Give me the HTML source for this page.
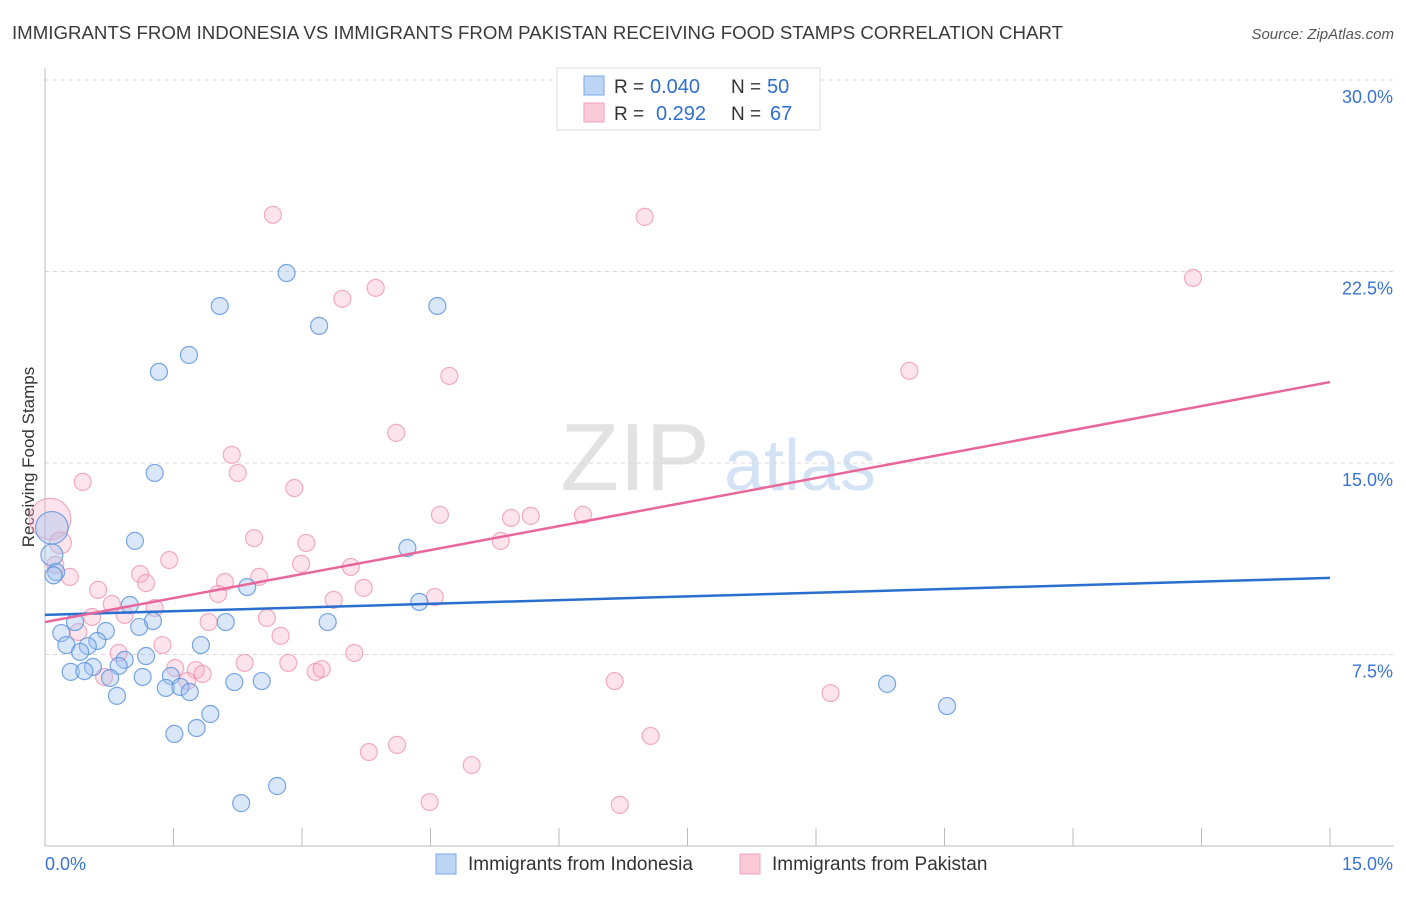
<!DOCTYPE html>
<html><head><meta charset="utf-8"><style>
body{margin:0;background:#fff;font-family:"Liberation Sans",sans-serif;}
svg text{font-family:"Liberation Sans",sans-serif;}
</style></head><body>
<svg id="chart" width="1406" height="892" xmlns="http://www.w3.org/2000/svg">
<text x="12" y="39" font-size="18" fill="#3a3a3a" textLength="1051" lengthAdjust="spacingAndGlyphs">IMMIGRANTS FROM INDONESIA VS IMMIGRANTS FROM PAKISTAN RECEIVING FOOD STAMPS CORRELATION CHART</text>
<text x="1394" y="39" font-size="15" fill="#555" text-anchor="end" font-style="italic">Source: ZipAtlas.com</text>
<text transform="translate(34,457) rotate(-90)" font-size="17" fill="#333" text-anchor="middle">Receiving Food Stamps</text>
<g>
<text x="635" y="490" font-size="96" fill="#e2e2e2" text-anchor="middle" font-family="Liberation Serif,serif">ZIP</text>
<text x="800" y="490" font-size="72" fill="#d3e2f4" text-anchor="middle">atlas</text>
</g>
<g id="grid"></g>
<g id="axes"></g>
<g id="marks"></g>
<g>
<rect x="557" y="68" width="263" height="62" fill="#fff" stroke="#ddd"/>
<rect x="584" y="76" width="20" height="19" fill="#bcd5f5" stroke="#7aa7e3"/>
<rect x="584" y="103" width="20" height="19" fill="#fbcad8" stroke="#f0a0ba"/>
<text x="614" y="93" font-size="19" fill="#333">R =</text>
<text x="650" y="93" font-size="20" fill="#2f6fd0">0.040</text>
<text x="731" y="93" font-size="19" fill="#333">N =</text>
<text x="767" y="93" font-size="20" fill="#2f6fd0">50</text>
<text x="614" y="120" font-size="19" fill="#333">R =</text>
<text x="656" y="120" font-size="20" fill="#2f6fd0">0.292</text>
<text x="731" y="120" font-size="19" fill="#333">N =</text>
<text x="770" y="120" font-size="20" fill="#2f6fd0">67</text>
</g>
<g>
<rect x="436" y="854" width="20" height="20" fill="#bcd5f5" stroke="#7aa7e3"/>
<text x="468" y="870" font-size="19" fill="#333">Immigrants from Indonesia</text>
<rect x="740" y="854" width="20" height="20" fill="#fbcad8" stroke="#f0a0ba"/>
<text x="772" y="870" font-size="19" fill="#333">Immigrants from Pakistan</text>
</g>
</svg>
<script>
const yTicks=[7.5,15,22.5,30];
const yTickLabels=["7.5%","15.0%","22.5%","30.0%"];
const xTickLabels=["0.0%","15.0%"];
const blueX=[2.82,2.04,4.58,3.20,1.68,1.33,1.28,1.05,4.23,2.36,4.37,0.99,1.26,1.10,2.11,3.30,0.35,0.19,0.71,0.61,0.25,0.50,0.41,1.18,1.82,0.93,0.86,0.56,0.30,0.46,0.76,1.14,1.47,1.41,1.58,1.69,2.21,2.53,0.84,1.93,1.77,1.51,9.83,10.53,2.71,2.29,0.08,0.08,0.13,0.10];
const blueY=[22.44,21.15,21.15,20.37,19.23,18.57,14.61,11.95,11.67,10.14,9.56,9.44,8.81,8.58,8.77,8.77,8.77,8.34,8.42,8.03,7.87,7.83,7.60,7.44,7.87,7.29,7.05,7.01,6.82,6.85,6.58,6.62,6.66,6.19,6.23,6.03,6.42,6.46,5.88,5.17,4.62,4.39,6.35,5.48,2.35,1.68,12.46,11.40,10.73,10.6];
const blueN=[1,1,1,1,1,1,1,1,1,1,1,1,1,1,1,1,1,1,1,1,1,1,1,1,1,1,1,1,1,1,1,1,1,1,1,1,1,1,1,1,1,1,1,1,1,1,4,2,1,1];
const pinkX=[2.66,7.00,13.40,3.47,3.86,10.09,4.72,4.10,2.18,2.25,0.44,2.91,4.61,5.44,5.67,6.28,2.44,3.05,5.32,1.45,2.99,3.57,3.72,1.11,1.18,2.50,2.10,2.02,0.62,4.55,3.37,0.78,1.28,0.93,0.55,2.59,1.91,0.39,1.37,2.75,3.61,0.86,2.33,2.84,1.52,1.76,3.16,3.23,1.84,1.66,0.69,6.65,9.17,7.07,4.11,3.78,4.98,4.49,6.71,0.06,0.18,0.12,0.29];
const pinkY=[24.72,24.64,22.25,21.43,21.86,18.61,18.41,16.18,15.32,14.61,14.26,14.02,12.97,12.85,12.93,12.97,12.06,11.87,11.95,11.20,11.05,10.93,10.11,10.65,10.30,10.54,10.34,9.87,10.03,9.75,9.64,9.48,9.32,9.05,8.97,8.93,8.77,8.38,7.87,8.23,7.56,7.56,7.17,7.17,6.97,6.89,6.82,6.93,6.74,6.46,6.62,6.46,5.99,4.31,3.96,3.68,3.17,1.72,1.61,12.81,11.87,11.01,10.54];
const pinkN=[1,1,1,1,1,1,1,1,1,1,1,1,1,1,1,1,1,1,1,1,1,1,1,1,1,1,1,1,1,1,1,1,1,1,1,1,1,1,1,1,1,1,1,1,1,1,1,1,1,1,1,1,1,1,1,1,1,1,1,6,2,1,1];
const blueTrend=[9.05,10.50];
const pinkTrend=[8.77,18.17];
const xMax=15,yMax=30;
const X0=45,X1=1330,Y0=846,Y1=80;
const sx=v=>X0+(v/xMax)*(X1-X0);
const sy=v=>Y0-(v/yMax)*(Y0-Y1);
const NS="http://www.w3.org/2000/svg";
function mk(tag,attrs,parent){const e=document.createElementNS(NS,tag);for(const k in attrs)e.setAttribute(k,attrs[k]);parent.appendChild(e);return e;}
const grid=document.getElementById('grid'),axes=document.getElementById('axes'),marks=document.getElementById('marks');
yTicks.forEach((t,i)=>{
 const l=mk('line',{x1:X0,x2:1394,y1:sy(t),y2:sy(t),stroke:'#d8d8d8','stroke-dasharray':'4,4'},grid);
 
 
 const tx=mk('text',{x:1393,y:sy(t)+23,'font-size':18,fill:'#3a73d0','text-anchor':'end'},axes);
 tx.textContent=yTickLabels[i];
 
 
});
const ya=mk('line',{x1:X0,x2:X0,y1:68,y2:Y0,stroke:'#bbb'},axes);


const xa=mk('line',{x1:X0,x2:1394,y1:Y0,y2:Y0,stroke:'#bbb'},axes);


for(let i=0;i<=10;i++){
 const v=i*1.5;
 const t=mk('line',{x1:sx(v),x2:sx(v),y1:Y0-18,y2:Y0,stroke:'#bbb'},axes);
 
 
}
const xl0=mk('text',{x:45,y:870,'font-size':18,fill:'#3a73d0'},axes);
xl0.textContent=xTickLabels[0];


const xl1=mk('text',{x:1393,y:870,'font-size':18,fill:'#3a73d0','text-anchor':'end'},axes);
xl1.textContent=xTickLabels[1];


function pts(xs,ys,ns,fill,stroke,name){
 xs.forEach((x,i)=>{
  const r=ns[i]>=4?7.5+ns[i]*2.2:(ns[i]>=2?11:8.5);
  const c=mk('circle',{cx:sx(x),cy:sy(ys[i]),r:r,fill:fill,stroke:stroke,'stroke-width':1.2},marks);
  
  
 });
}
pts(pinkX,pinkY,pinkN,'rgba(246,176,200,0.35)','rgba(236,140,172,0.7)','point-pakistan');
pts(blueX,blueY,blueN,'rgba(160,194,240,0.4)','rgba(90,145,220,0.8)','point-indonesia');
const bl=mk('line',{x1:sx(0),y1:sy(blueTrend[0]),x2:sx(15),y2:sy(blueTrend[1]),stroke:'#2a6fd0','stroke-width':2.5},marks);


const pl=mk('line',{x1:sx(0),y1:sy(pinkTrend[0]),x2:sx(15),y2:sy(pinkTrend[1]),stroke:'#e8679a','stroke-width':2.5},marks);


</script>
</body></html>
